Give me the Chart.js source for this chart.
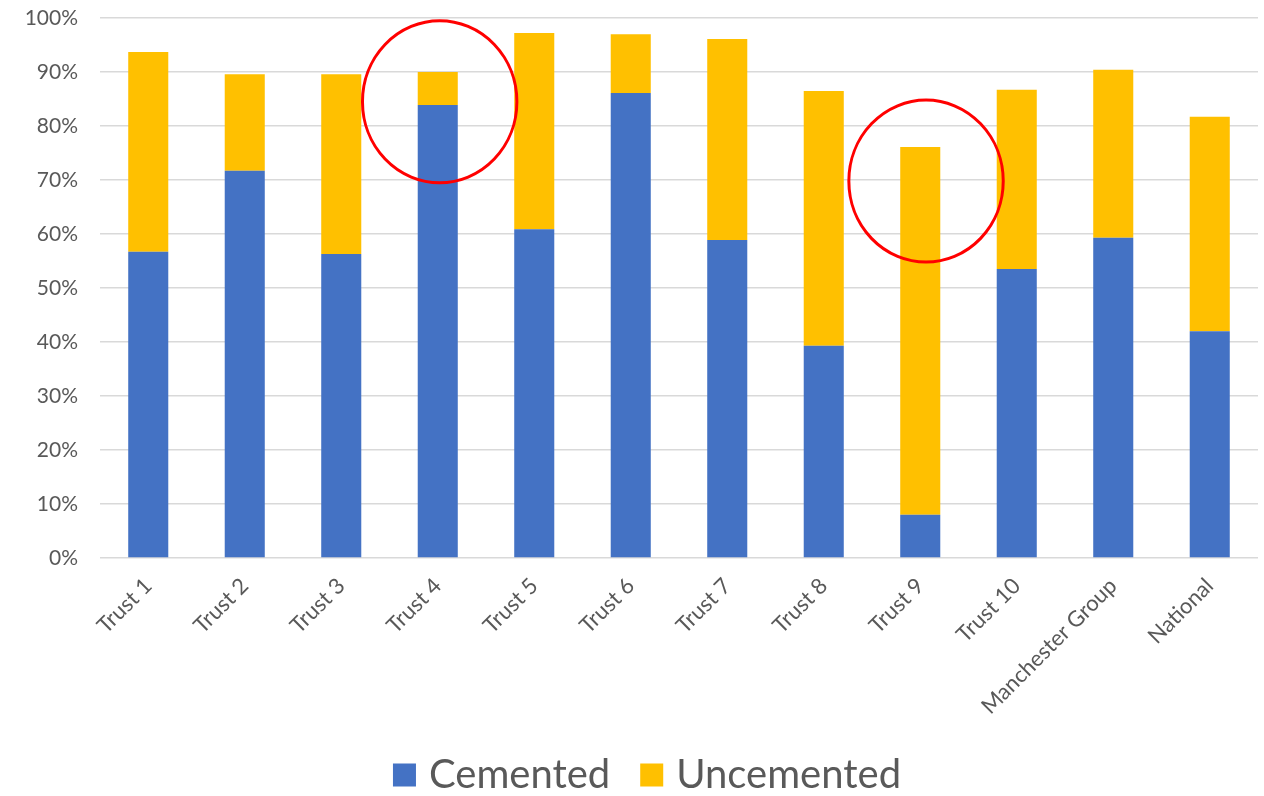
<!DOCTYPE html>
<html>
<head>
<meta charset="utf-8">
<script src="https://cdn.jsdelivr.net/npm/chart.js@4"></script>
<style>
  html, body { margin: 0; padding: 0; background: #fff; }
  #wrap { width: 1264px; height: 796px; }
</style>
</head>
<body>
<div id="wrap"><canvas id="chart"></canvas></div>
<script>
// categories and values (percent)
const categories = ['Trust 1', 'Trust 2', 'Trust 3', 'Trust 4', 'Trust 5', 'Trust 6',
    'Trust 7', 'Trust 8', 'Trust 9', 'Trust 10', 'Manchester Group', 'National'];
const cemented = [56.7, 71.7, 56.3, 83.9, 60.9, 86.1, 58.9, 39.3, 8.0, 53.5, 59.3, 42.0];
const uncemented = [37.0, 17.9, 33.3, 6.1, 36.3, 10.9, 37.2, 47.2, 68.1, 33.2, 31.1, 39.7];

// highlighted bars: category index and centre value of the red ring
const highlights = [
    { index: 3, value: 84.5 },
    { index: 8, value: 69.8 }
];

const textColor = '#595959';
const fontFamily = 'Lato, "Open Sans", sans-serif';

// Draw red rings round the highlighted bars (hand drawn in the original, slightly off centre)
const ringShift = [0.02, 0.06];
const ringPlugin = {
    id: 'rings',
    afterDatasetsDraw(chart) {
        const ctx = chart.ctx;
        const x = chart.scales.x;
        const y = chart.scales.y;
        highlights.forEach((h, i) => {
            const cx = x.getPixelForValue(h.index + ringShift[i]);
            const cy = y.getPixelForValue(h.value);
            const rx = x.getPixelForValue(h.index + 0.8) - x.getPixelForValue(h.index);
            const ry = y.getPixelForValue(0) - y.getPixelForValue(15);
            ctx.save();
            ctx.beginPath();
            ctx.ellipse(cx, cy, rx, ry, 0, 0, Math.PI * 2);
            ctx.strokeStyle = '#FF0000';
            ctx.lineWidth = 3;
            ctx.stroke();
            ctx.restore();
        });
    }
};

// Legend under the chart, Excel style (small square, tight gap)
const bottomLegend = {
    id: 'bottomLegend',
    afterDraw(chart) {
        const ctx = chart.ctx;
        const box = 23, gap = 13, itemGap = 30;
        const midY = 775;
        ctx.save();
        ctx.font = '40px ' + fontFamily;
        ctx.textBaseline = 'middle';
        const items = chart.data.datasets.map(ds => ({
            label: ds.label,
            color: ds.backgroundColor,
            w: ctx.measureText(ds.label).width
        }));
        const total = items.reduce((s, it) => s + box + gap + it.w, 0) + itemGap * (items.length - 1);
        let xPos = chart.width / 2 + 15 - total / 2;
        items.forEach(it => {
            ctx.fillStyle = it.color;
            ctx.fillRect(xPos, midY - box / 2, box, box);
            ctx.fillStyle = textColor;
            ctx.fillText(it.label, xPos + box + gap, midY);
            xPos += box + gap + it.w + itemGap;
        });
        ctx.restore();
    }
};

new Chart(document.getElementById('chart').getContext('2d'), {
    type: 'bar',
    data: {
        labels: categories,
        datasets: [
            {
                label: 'Cemented',
                data: cemented,
                backgroundColor: '#4472C4',
                categoryPercentage: 0.415,
                barPercentage: 1
            },
            {
                label: 'Uncemented',
                data: uncemented,
                backgroundColor: '#FFC000',
                categoryPercentage: 0.415,
                barPercentage: 1
            }
        ]
    },
    options: {
        responsive: true,
        maintainAspectRatio: false,
        animation: false,
        layout: { padding: { top: 18, right: 6, left: 0, bottom: 68 } },
        plugins: {
            legend: { display: false },
            tooltip: { enabled: false }
        },
        scales: {
            x: {
                stacked: true,
                grid: { display: false, drawTicks: false },
                border: { display: false },
                ticks: {
                    color: textColor,
                    font: { family: fontFamily, size: 22 },
                    minRotation: 45,
                    maxRotation: 45,
                    autoSkip: false,
                    padding: 15
                },
                afterFit: s => {
                    s.height = 170;
                    s.paddingTop = 0;
                    s.paddingBottom = 0;
                }
            },
            y: {
                stacked: true,
                min: 0,
                max: 100,
                grid: { color: '#D9D9D9', lineWidth: 1.5, drawTicks: false },
                border: { display: false },
                ticks: {
                    stepSize: 10,
                    color: textColor,
                    font: { family: fontFamily, size: 21 },
                    padding: 22,
                    callback: v => v + '%'
                },
                afterFit: s => {
                    s.width = 100;
                    s.paddingTop = 0;
                    s.paddingBottom = 0;
                }
            }
        }
    },
    plugins: [ringPlugin, bottomLegend]
});
</script>
</body>
</html>
